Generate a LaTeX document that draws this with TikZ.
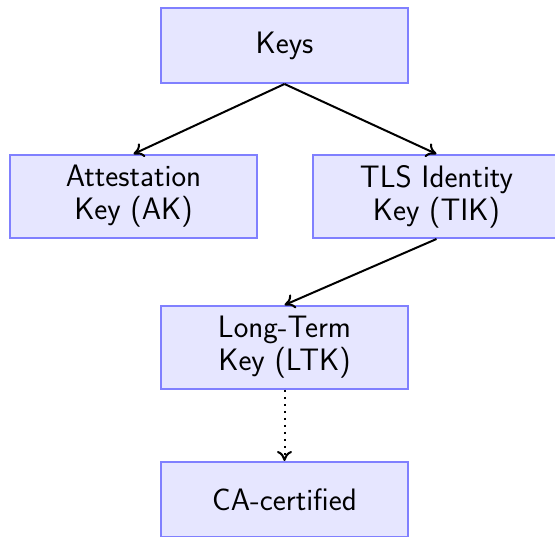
\documentclass[tikz,border=0pt]{standalone}
\usetikzlibrary{arrows.meta}
\definecolor{boxline}{RGB}{128,128,255}
\definecolor{boxfill}{RGB}{230,230,255}
\begin{document}
\begin{tikzpicture}[x=1pt,y=-1pt,
  keybox/.style={draw=boxline, fill=boxfill, line width=2pt,
    minimum width=247pt, inner sep=0pt, align=center,
    font=\sffamily\fontsize{31}{33}\selectfont},
  onebox/.style={keybox, minimum height=75pt},
  twobox/.style={keybox, minimum height=83pt},
  link/.style={line width=2pt, -{To[length=10pt,width=15pt]}},
  certlink/.style={link, dash pattern=on 2pt off 5pt}]
\useasboundingbox (0,0) rectangle (555,537);
\node[onebox] (keys) at (284.5,45.5) {Keys};
\node[twobox] (ak) at (133.5,196.5) {Attestation\\Key (AK)};
\node[twobox] (tik) at (436.5,196.5) {TLS Identity\\Key (TIK)};
\node[twobox] (ltk) at (284.5,347.5) {Long-Term\\Key (LTK)};
\node[onebox] (ca) at (284.5,499.5) {CA-certified};
\draw[link] (keys.south) -- (ak.north);
\draw[link] (keys.south) -- (tik.north);
\draw[link] (tik.south) -- (ltk.north);
\draw[certlink] (ltk.south) -- (ca.north);
\end{tikzpicture}
\end{document}
